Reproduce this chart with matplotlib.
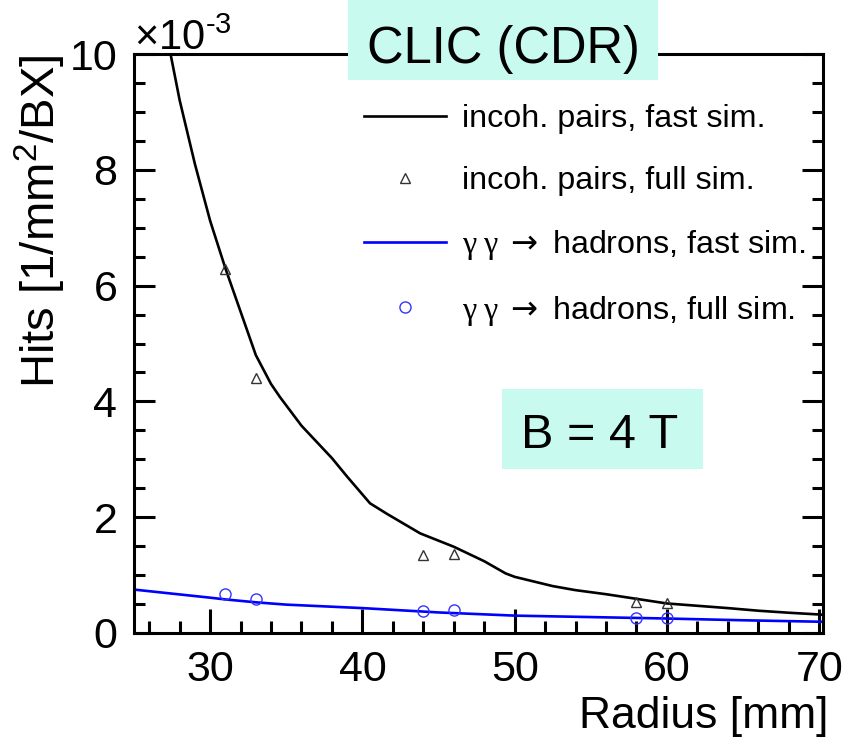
import matplotlib
matplotlib.use("Agg")
import matplotlib.pyplot as plt
from matplotlib.ticker import MultipleLocator
from matplotlib.patches import Rectangle

plt.rcParams['font.family'] = ['Liberation Sans', 'DejaVu Sans']
plt.rcParams['mathtext.fontset'] = 'custom'
plt.rcParams['mathtext.rm'] = 'Liberation Sans'
plt.rcParams['mathtext.it'] = 'Liberation Sans:italic'
plt.rcParams['mathtext.sf'] = 'Liberation Serif'
plt.rcParams['mathtext.cal'] = 'DejaVu Sans'
plt.rcParams['mathtext.fallback'] = 'stix'

# incoherent pairs, fast simulation (curve)
pairs_fast_r = [27.0, 27.4, 28.0, 29.0, 30.0, 31.0, 32.0, 33.0, 34.0, 34.6, 36.0, 38.0,
                39.0, 40.5, 41.6, 43.8, 46.0, 48.0, 49.4, 50.0, 52.5, 54.0, 56.0, 58.0,
                60.0, 62.0, 64.0, 66.0, 68.0, 70.0, 70.5]
pairs_fast_hits = [10.6, 10.0, 9.2, 8.1, 7.12, 6.3, 5.55, 4.8, 4.3, 4.07, 3.58, 3.02,
                   2.7, 2.24, 2.06, 1.72, 1.49, 1.24, 1.03, 0.97, 0.81, 0.74, 0.67, 0.59,
                   0.51, 0.47, 0.43, 0.385, 0.35, 0.32, 0.31]

# incoherent pairs, full simulation (triangles)
pairs_full_r = [31, 33, 44, 46, 58, 60]
pairs_full_hits = [6.28, 4.40, 1.35, 1.37, 0.54, 0.52]

# gamma gamma -> hadrons, fast simulation (curve)
hadr_fast_r = [25, 30, 31, 33, 35, 40, 44, 45, 50, 55, 60, 65, 70, 70.5]
hadr_fast_hits = [0.75, 0.61, 0.58, 0.53, 0.49, 0.43, 0.37, 0.355, 0.30, 0.275, 0.25, 0.22, 0.195, 0.193]

# gamma gamma -> hadrons, full simulation (circles)
hadr_full_r = [31, 33, 44, 46, 58, 60]
hadr_full_hits = [0.67, 0.59, 0.38, 0.40, 0.265, 0.265]

fig = plt.figure(figsize=(8.47, 7.38), dpi=100)
ax = fig.add_axes([134/847, 1-633/738, (823-134)/847, (633-54)/738])

gg = '$\\mathsf{\\gamma}\\;\\mathsf{\\gamma}\\;\\mathcal{\\rightarrow}$'
ax.plot(pairs_fast_r, pairs_fast_hits, color='black', lw=1.9,
        label='incoh. pairs, fast sim.')
ax.plot(pairs_full_r, pairs_full_hits, ls='none', marker='^', ms=7.5, mfc='none',
        mec='#333333', mew=1.0, label='incoh. pairs, full sim.')
ax.plot(hadr_fast_r, hadr_fast_hits, color='#0000ff', lw=1.9,
        label=gg + ' hadrons, fast sim.')
ax.plot(hadr_full_r, hadr_full_hits, ls='none', marker='o', ms=8, mfc='none',
        mec='#3333ff', mew=1.0, label=gg + ' hadrons, full sim.')

ax.set_xlim(25, 70.25)
ax.set_ylim(0, 10)
ax.xaxis.set_major_locator(MultipleLocator(10))
ax.xaxis.set_minor_locator(MultipleLocator(2))
ax.yaxis.set_major_locator(MultipleLocator(2))
ax.yaxis.set_minor_locator(MultipleLocator(0.5))
ax.xaxis.set_ticks_position('bottom')
ax.tick_params(which='both', direction='in', right=True, top=False, width=2.2,
               labelsize=31)
ax.tick_params(axis='x', which='both', pad=12)
ax.tick_params(axis='y', which='both', pad=12)
ax.tick_params(axis='x', which='major', length=17)
ax.tick_params(axis='x', which='minor', length=9)
ax.tick_params(axis='y', which='major', length=15)
ax.tick_params(axis='y', which='minor', length=8)
for s in ax.spines.values():
    s.set_linewidth(2.2)

ax.set_xlabel('Radius [mm]', fontsize=32)
ax.xaxis.set_label_coords((828-134)/689, -(696-633)/579)
ax.xaxis.label.set_ha('right')
ax.xaxis.label.set_va('top')
ax.set_ylabel('Hits [1/mm$^{\\mathrm{2}}$/BX]', fontsize=34)
ax.yaxis.set_label_coords(-(134-13)/689, 1.0)
ax.yaxis.label.set_ha('right')
ax.yaxis.label.set_va('top')
ax.yaxis.label.set_rotation_mode('anchor')

ax.text(0.0, 1 + 4/579, '×10$^{\\text{-3}}$', transform=ax.transAxes, fontsize=30,
        ha='left', va='baseline')

cyan = '#c8faf0'
fig.patches.append(Rectangle((348/847, 1-80/738), (658-348)/847, 80/738,
                             transform=fig.transFigure, fc=cyan, ec='none', zorder=5))
fig.text(503/847, 1-44/738, 'CLIC (CDR)', fontsize=36.5, ha='center', va='center_baseline',
         zorder=6)
fig.patches.append(Rectangle((502/847, 1-469/738), (703-502)/847, 80/738,
                             transform=fig.transFigure, fc=cyan, ec='none', zorder=5))
fig.text(600/847, 1-431/738, 'B = 4 T', fontsize=35, ha='center', va='center_baseline',
         zorder=6)

leg = ax.legend(loc='upper left', bbox_to_anchor=((364-134)/689, (633-104)/579),
                frameon=False, fontsize=23.2, handlelength=2.55, handletextpad=0.5,
                labelspacing=0.99, borderpad=0, borderaxespad=0, numpoints=1)

fig.savefig('out.png', dpi=100)
